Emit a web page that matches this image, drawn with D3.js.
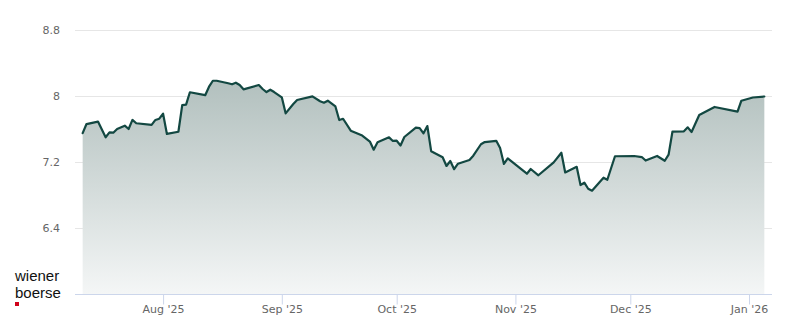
<!DOCTYPE html>
<html>
<head>
<meta charset="utf-8">
<script src="https://cdn.jsdelivr.net/npm/d3@7"></script>
<style>
  html, body { margin: 0; padding: 0; background: #ffffff; }
  svg { display: block; }
</style>
</head>
<body>
<svg id="chart" width="800" height="324"></svg>
<script>
// ---- data ----
const dates = [
  "2025-07-11","2025-07-12","2025-07-15","2025-07-17","2025-07-18","2025-07-19","2025-07-20",
  "2025-07-22","2025-07-23","2025-07-24","2025-07-25","2025-07-29","2025-07-30","2025-07-31",
  "2025-08-01","2025-08-02","2025-08-05","2025-08-06","2025-08-07","2025-08-08","2025-08-12",
  "2025-08-13","2025-08-14","2025-08-15","2025-08-18","2025-08-19","2025-08-20","2025-08-21",
  "2025-08-22","2025-08-26","2025-08-27","2025-08-28","2025-08-29","2025-08-30","2025-09-01",
  "2025-09-02","2025-09-04","2025-09-05","2025-09-09","2025-09-11","2025-09-12","2025-09-13",
  "2025-09-15","2025-09-16","2025-09-17","2025-09-19","2025-09-22","2025-09-24","2025-09-25",
  "2025-09-26","2025-09-29","2025-09-30","2025-10-01","2025-10-02","2025-10-03","2025-10-06",
  "2025-10-07","2025-10-08","2025-10-09","2025-10-10","2025-10-13","2025-10-14","2025-10-15",
  "2025-10-16","2025-10-17","2025-10-20","2025-10-21","2025-10-23","2025-10-24","2025-10-27",
  "2025-10-28","2025-10-29","2025-10-30","2025-11-04","2025-11-05","2025-11-07","2025-11-11",
  "2025-11-13","2025-11-14","2025-11-17","2025-11-18","2025-11-19","2025-11-20","2025-11-21",
  "2025-11-24","2025-11-25","2025-11-27","2025-12-02","2025-12-04","2025-12-05","2025-12-08",
  "2025-12-10","2025-12-11","2025-12-12","2025-12-15","2025-12-16","2025-12-17","2025-12-19",
  "2025-12-23","2025-12-29","2025-12-30","2026-01-02","2026-01-05"
];
const prices = [
  7.55, 7.66, 7.69, 7.50, 7.56, 7.555, 7.60,
  7.64, 7.60, 7.71, 7.67, 7.65, 7.71, 7.725,
  7.785, 7.54, 7.567, 7.89, 7.895, 8.045, 8.01,
  8.113, 8.185, 8.185, 8.154, 8.142, 8.161, 8.133,
  8.081, 8.133, 8.085, 8.048, 8.076, 8.048, 7.984,
  7.79, 7.903, 7.952, 7.996, 7.936, 7.919, 7.943,
  7.873, 7.709, 7.724, 7.58, 7.521, 7.448, 7.349,
  7.44, 7.499, 7.455, 7.458, 7.40, 7.503, 7.616,
  7.61, 7.548, 7.636, 7.331, 7.257, 7.152, 7.212,
  7.113, 7.179, 7.224, 7.276, 7.415, 7.442, 7.457,
  7.37, 7.176, 7.245, 7.058, 7.115, 7.039, 7.196,
  7.312, 7.073, 7.142, 6.921, 6.949, 6.876, 6.852,
  7.01, 6.985, 7.27, 7.273, 7.26, 7.218, 7.273,
  7.215, 7.29, 7.567, 7.572, 7.62, 7.564, 7.77,
  7.867, 7.81, 7.943, 7.982, 7.994
];
const yTicks = [6.4, 7.2, 8, 8.8];
const yTickLabels = ["6.4", "7.2", "8", "8.8"];
const xTickDates = ["2025-08-01","2025-09-01","2025-10-01","2025-11-01","2025-12-01","2026-01-01"];
const xTickLabels = ["Aug '25","Sep '25","Oct '25","Nov '25","Dec '25","Jan '26"];
const xDomain = ["2025-07-09","2026-01-07"];
const yDomain = [5.6, 8.8];
const logoLines = ["wiener", "boerse"];

// ---- chart ----
(function () {
const parse = d3.utcParse("%Y-%m-%d");
const data = dates.map((d, i) => ({ date: parse(d), value: prices[i] }));

const svg = d3.select("#chart");
const mLeft = 75, mRight = 772, mTop = 30, mBottom = 294;

const x = d3.scaleUtc().domain(xDomain.map(parse)).range([mLeft, mRight]);
const y = d3.scaleLinear().domain(yDomain).range([mBottom, mTop]);

// gradient
const defs = svg.append("defs");
const grad = defs.append("linearGradient")
  .attr("id", "areaGrad")
  .attr("gradientUnits", "userSpaceOnUse")
  .attr("x1", 0).attr("x2", 0)
  .attr("y1", y(d3.max(prices))).attr("y2", mBottom);
grad.append("stop").attr("offset", "0%").attr("stop-color", "#b2c0be");
grad.append("stop").attr("offset", "100%").attr("stop-color", "#f4f6f6");

// gridlines
svg.append("g")
  .selectAll("line")
  .data(yTicks)
  .join("line")
  .attr("x1", mLeft).attr("x2", mRight)
  .attr("y1", d => y(d) + 0.5).attr("y2", d => y(d) + 0.5)
  .attr("stroke", "#e6e6e6").attr("stroke-width", 1);

// y labels
svg.append("g")
  .selectAll("text")
  .data(yTicks)
  .join("text")
  .attr("x", 60)
  .attr("y", d => y(d) + 4)
  .attr("text-anchor", "end")
  .attr("font-family", "DejaVu Sans, sans-serif")
  .attr("font-size", "11px")
  .attr("fill", "#666666")
  .text((d, i) => yTickLabels[i]);

// area
const area = d3.area()
  .x(d => x(d.date))
  .y0(mBottom)
  .y1(d => y(d.value));
svg.append("path")
  .datum(data)
  .attr("d", area)
  .attr("fill", "url(#areaGrad)");

// line
const line = d3.line()
  .x(d => x(d.date))
  .y(d => y(d.value));
svg.append("path")
  .datum(data)
  .attr("d", line)
  .attr("fill", "none")
  .attr("stroke", "#134842")
  .attr("stroke-width", 2.2)
  .attr("stroke-linejoin", "round")
  .attr("stroke-linecap", "round");

// x axis
const xAxis = d3.axisBottom(x)
  .tickValues(xTickDates.map(parse))
  .tickFormat((d, i) => xTickLabels[i])
  .tickSize(10)
  .tickSizeOuter(0);
const gx = svg.append("g")
  .attr("transform", `translate(0,${mBottom + 0.5})`)
  .call(xAxis);
gx.select(".domain").attr("stroke", "#ccd6eb").attr("d", `M${mLeft},0H${mRight}`);
gx.selectAll(".tick line").attr("stroke", "#ccd6eb");
gx.selectAll(".tick text")
  .attr("fill", "#666666")
  .attr("font-family", "DejaVu Sans, sans-serif")
  .attr("font-size", "11px")
  .attr("dy", "0.71em")
  .attr("y", 11);

// logo
const logo = svg.append("g")
  .attr("font-family", "Liberation Sans, Arial, sans-serif")
  .attr("font-size", "15px").attr("fill", "#111111");
logo.selectAll("text")
  .data(logoLines)
  .join("text")
  .attr("x", 15)
  .attr("y", (d, i) => 281 + i * 17)
  .text(d => d);
svg.append("rect").attr("x", 15).attr("y", 302).attr("width", 4).attr("height", 4).attr("fill", "#d0021b");
})();
</script>
</body>
</html>
